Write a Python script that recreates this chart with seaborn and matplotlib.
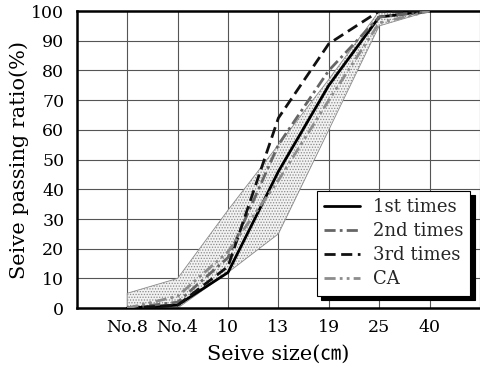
import numpy as np
import pandas as pd
import matplotlib
matplotlib.use("Agg")
import matplotlib.pyplot as plt
import seaborn as sns

sieves = ["No.8", "No.4", "10", "13", "19", "25", "40"]
first_times = [0, 1, 12, 46, 75, 98, 100]
second_times = [0, 2, 17, 55, 80, 98, 100]
third_times = [0, 1, 14, 64, 89, 100, 100]
ca_values = [0, 4, 19, 43, 70, 96, 100]
upper_limit = [5, 10, 33, 55, 77, 100, 100]
lower_limit = [0, 0, 12, 25, 60, 95, 100]

series_names = ["1st times", "2nd times", "3rd times", "CA"]
series_values = [first_times, second_times, third_times, ca_values]

sns.set_theme(style="white")
plt.rcParams['font.family'] = ['DejaVu Serif', 'Noto Sans CJK JP']
plt.rcParams['hatch.color'] = '#9a9a9a'
plt.rcParams['hatch.linewidth'] = 0.6

rows = []
for name, vals in zip(series_names, series_values):
    for i, v in enumerate(vals):
        rows.append({"pos": i, "value": v, "series": name})
df = pd.DataFrame(rows)

fig = plt.figure(figsize=(4.8, 3.69), dpi=100)
ax = fig.add_axes([0.160, 0.165, 0.840, 0.805])

x = np.arange(len(sieves))
ax.fill_between(x, lower_limit, upper_limit, facecolor='#f2f2f2', edgecolor='#8a8a8a',
                hatch='......', linewidth=0.6, zorder=2)

palette = {"1st times": "black", "2nd times": "#666666", "3rd times": "#111111", "CA": "#8c8c8c"}
dashes = {"1st times": "", "2nd times": (4, 1.5, 1, 1.5), "3rd times": (4, 2), "CA": (4, 1.5, 1, 1.5, 1, 1.5)}
sns.lineplot(data=df, x="pos", y="value", hue="series", style="series",
             palette=palette, dashes=dashes, linewidth=2.0, ax=ax, zorder=3, legend=True)

ax.set_xlim(-1, 7)
ax.set_ylim(0, 100)
ax.set_xticks(x)
ax.set_xticklabels(sieves)
ax.set_yticks(np.arange(0, 101, 10))
ax.vlines(np.arange(0, 8), 0, 100, color='#555555', linewidth=0.8, zorder=1)
ax.hlines(np.arange(10, 100, 10), -1, 7, color='#555555', linewidth=0.8, zorder=1)

for s in ['left', 'bottom', 'top']:
    ax.spines[s].set_color('black')
    ax.spines[s].set_linewidth(1.8)
ax.spines['right'].set_visible(False)
ax.tick_params(axis='y', which='both', length=0, labelsize=12.5, colors='black', pad=9)
ax.tick_params(axis='x', which='both', length=0, labelsize=12.5, colors='black', pad=8)

ax.set_xlabel("Seive size(㎝)", fontsize=15, labelpad=6, color='black')
ax.set_ylabel("Seive passing ratio(%)", fontsize=15, labelpad=2, color='black')

handles, labels = ax.get_legend_handles_labels()
leg = ax.legend(handles, labels, loc='lower right', bbox_to_anchor=(0.985, 0.03),
                frameon=True, fancybox=False, edgecolor='black', framealpha=1,
                shadow={'color': 'black', 'alpha': 1, 'ox': 3, 'oy': -3}, fontsize=13,
                handlelength=2.0, borderpad=0.4, labelspacing=0.33, handletextpad=0.7,
                borderaxespad=0.2)
leg.get_frame().set_linewidth(0.8)
for lh in leg.get_lines():
    lh.set_linewidth(2.0)

fig.savefig("out.png", dpi=100)
